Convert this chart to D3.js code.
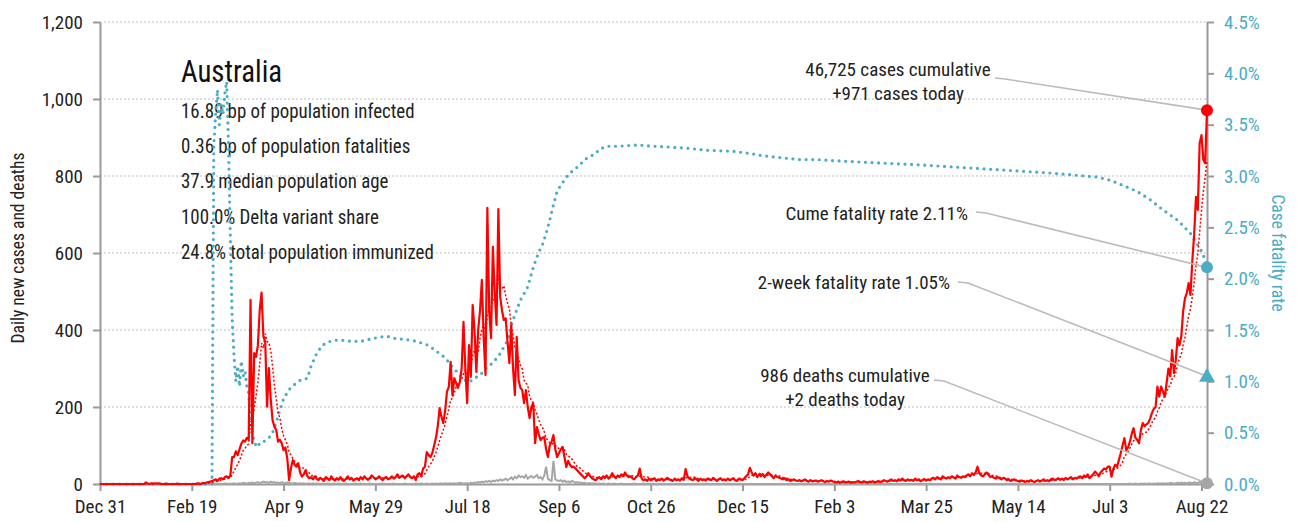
<!DOCTYPE html>
<html>
<head>
<meta charset="utf-8">
<style>
  body { margin: 0; background: #fff; }
  .chart text { font-family: "Liberation Sans Narrow", "Roboto Condensed", "DejaVu Sans Condensed", sans-serif; }
</style>
</head>
<body>
<div class="chart"></div>
<script src="https://d3js.org/d3.v7.min.js"></script>
<script>
// day 0 = Dec 31 2019, one value per day
var cases = [
  0,0,0,0,0,0,0,0,0,0,
  0,0,0,0,0,0,0,0,0,0,
  0,0,0,0,0,4,1,0,2,0,
  2,1,2,0,0,0,1,0,0,0,
  0,0,1,0,0,0,0,0,0,0,
  0,0,0,2,1,0,3,2,4,5,
  6,8,10,12,8,14,15,12,18,20,
  16,22,70,70,85,75,90,105,113,110,
  120,115,478,106,340,330,360,452,497,383,
  370,201,301,220,166,149,140,110,115,106,
  88,95,67,10,40,62,50,45,54,30,
  19,25,36,20,15,18,12,20,14,10,
  16,12,8,18,14,10,20,12,9,15,
  11,18,10,8,14,20,12,16,9,12,
  15,10,18,12,20,14,11,16,22,18,
  12,15,20,14,10,16,18,12,15,20,
  14,18,25,16,20,22,15,20,25,18,
  15,20,10,25,28,20,40,45,83,75,
  70,80,100,120,150,197,175,158,190,240,
  252,317,230,275,262,250,265,300,421,300,
  210,361,278,465,400,291,400,450,530,380,
  283,717,450,379,616,500,413,714,486,450,
  426,430,369,314,413,300,231,382,270,250,
  244,210,244,200,171,200,210,106,148,130,
  114,120,122,90,70,100,110,127,90,70,
  80,90,96,70,44,60,50,44,45,40,
  35,30,25,20,15,20,28,20,15,12,
  10,15,18,12,20,16,22,14,18,28,
  20,15,22,18,25,20,30,22,18,20,
  15,12,18,22,40,15,10,12,8,14,
  10,12,15,8,12,10,14,9,12,16,
  12,10,8,14,10,12,9,15,11,39,
  20,14,12,10,15,12,8,14,10,12,
  9,14,12,10,16,12,8,12,15,10,
  12,9,14,10,12,15,10,8,14,12,
  10,15,20,25,42,30,22,28,18,25,
  20,26,18,24,30,25,20,15,22,18,
  16,14,12,15,10,12,8,10,12,9,
  8,10,7,9,12,8,6,10,7,8,
  9,6,8,10,7,5,8,6,9,7,
  5,4,6,3,5,7,4,5,6,3,
  5,4,6,8,5,4,7,5,3,6,
  5,7,4,6,8,5,7,10,8,6,
  9,12,8,10,7,12,9,14,10,8,
  12,9,11,8,14,10,12,7,10,13,
  9,12,10,14,16,12,18,15,12,20,
  16,14,18,15,20,17,14,22,18,16,
  20,18,22,25,20,28,24,30,45,28,
  22,20,25,30,24,18,20,16,14,18,
  15,12,16,14,10,12,8,10,12,9,
  8,6,9,7,5,8,6,10,7,5,
  8,10,6,9,12,8,10,7,12,14,
  10,12,15,11,14,10,16,12,15,18,
  12,16,14,18,20,15,22,18,25,15,
  20,25,32,28,20,30,35,40,38,45,
  45,19,40,50,45,62,80,100,119,88,
  95,110,130,145,120,115,106,140,158,150,
  155,158,170,184,195,200,253,227,253,240,
  227,262,300,280,348,288,322,379,360,383,
  448,482,496,522,491,580,647,746,712,885,
  906,842,833,971
];

var deaths = [
  0,0,0,0,0,0,0,0,0,0,
  0,0,0,0,0,0,0,0,0,0,
  0,0,0,0,0,0,0,0,0,0,
  0,0,0,0,0,0,0,0,0,0,
  0,0,0,0,0,0,0,0,0,0,
  0,0,0,0,0,0,0,0,0,0,
  1,0,0,0,1,0,0,0,1,1,
  0,1,0,2,0,1,2,1,3,2,
  1,3,2,4,2,3,5,3,4,6,
  4,5,3,6,4,5,3,4,2,5,
  3,2,4,3,2,1,3,2,1,2,
  1,2,0,1,1,0,2,0,1,0,
  0,1,0,0,1,0,0,1,0,0,
  1,0,0,0,1,0,0,0,0,1,
  0,0,1,0,0,0,0,1,0,0,
  0,0,0,1,0,0,0,0,0,0,
  1,0,0,0,0,0,1,0,0,0,
  0,0,1,0,0,1,0,0,1,0,
  0,1,0,1,0,1,1,0,2,1,
  1,2,1,2,1,2,3,2,1,2,
  2,1,3,2,4,3,5,4,6,5,
  7,6,8,5,9,7,10,8,12,9,
  11,14,10,13,17,12,19,15,22,18,
  20,16,23,14,18,21,16,19,23,15,
  18,12,22,45,14,10,8,60,12,9,
  8,10,6,9,5,7,4,8,6,3,
  5,3,4,2,3,1,2,2,1,1,
  1,0,1,0,1,0,0,1,0,0,
  1,0,0,0,1,0,0,0,0,0,
  0,1,0,0,0,0,1,0,0,0,
  0,0,0,0,0,0,0,0,0,0,
  0,0,0,0,0,0,0,0,0,0,
  0,0,0,0,0,0,0,0,0,0,
  0,0,0,0,0,0,0,0,0,0,
  0,0,0,0,0,0,0,0,0,0,
  0,0,0,0,0,0,0,0,0,0,
  0,0,0,0,0,0,0,0,0,0,
  0,0,0,0,0,0,0,0,0,0,
  0,0,0,0,0,0,0,0,0,0,
  0,0,0,0,0,0,0,0,0,0,
  0,0,0,0,0,0,0,0,0,0,
  0,0,0,0,0,0,0,0,0,0,
  0,0,0,0,0,0,0,0,0,0,
  0,0,0,0,0,0,0,0,0,0,
  0,0,0,0,0,0,0,0,0,0,
  0,0,0,0,0,0,0,0,0,0,
  0,0,0,0,0,0,0,0,0,0,
  0,0,0,0,0,0,0,0,0,0,
  0,0,0,0,0,0,0,0,0,0,
  0,0,0,0,0,0,0,0,0,0,
  0,0,0,0,0,0,0,0,0,0,
  0,0,0,0,0,0,0,0,0,0,
  0,0,0,0,0,0,0,0,0,0,
  0,0,0,0,0,0,0,0,0,0,
  0,0,0,0,0,0,0,0,0,0,
  0,0,0,0,0,0,0,0,0,0,
  0,1,0,0,1,0,0,1,0,1,
  0,1,1,0,1,0,2,1,1,2,
  1,2,1,3,2,1,2,3,2,4,
  2,3,1,4,3,2,5,3,2,6,
  3,4,2,2
];

// case fatality rate (%), read at these days
var cfrDays = [0,61,62,63,64,65,66,67,68,69,70,71,72,73,74,75,76,77,78,79,80,81,82,83,84,85,86,87,89,92,94,96,98,100,103,106,109,113,115,118,121,124,127,132,137,142,147,152,156,160,165,170,174,179,185,188,192,196,199,201,204,207,211,214,218,222,225,229,233,236,239,241,243,245,247,249,251,255,258,261,264,267,270,272,276,283,290,294,301,312,320,331,345,354,360,370,381,390,409,445,481,517,543,550,557,565,572,579,587,594,599,601,603];
var cfrValues = [0,0,3.3,3.6,3.84,3.5,3.7,3.6,3.8,3.92,3.3,2.4,1.6,1.25,1.0,1.15,0.95,1.2,1.05,1.1,0.95,0.88,0.6,0.48,0.42,0.37,0.36,0.4,0.41,0.45,0.5,0.6,0.72,0.83,0.92,0.97,1.01,1.03,1.15,1.27,1.35,1.38,1.4,1.4,1.39,1.39,1.41,1.43,1.44,1.42,1.41,1.40,1.38,1.35,1.27,1.23,1.14,1.06,1.01,0.99,1.03,1.06,1.14,1.18,1.27,1.4,1.6,1.79,1.92,2.11,2.26,2.33,2.44,2.57,2.72,2.85,2.91,3.01,3.06,3.1,3.16,3.19,3.22,3.26,3.29,3.29,3.3,3.3,3.29,3.28,3.27,3.25,3.24,3.22,3.2,3.18,3.16,3.16,3.14,3.11,3.07,3.03,2.99,2.96,2.91,2.85,2.77,2.67,2.57,2.44,2.3,2.23,2.11];

var xTickDays = [0,50,100,150,200,250,300,350,400,450,500,550,600];
var xTickLabels = ["Dec 31","Feb 19","Apr 9","May 29","Jul 18","Sep 6","Oct 26","Dec 15","Feb 3","Mar 25","May 14","Jul 3","Aug 22"];
var leftTicks = [0,200,400,600,800,1000,1200];
var rightTicks = [0,0.5,1,1.5,2,2.5,3,3.5,4,4.5];

var country = "Australia";
var stats = [
  "16.89 bp of population infected",
  "0.36 bp of population fatalities",
  "37.9 median population age",
  "100.0% Delta variant share",
  "24.8% total population immunized"
];
var cumCases = 46725, todayCases = 971, cumDeaths = 986, todayDeaths = 2;
var cumeRate = 2.11, twoWeekRate = 1.05;

var TEAL = "#4bacc6", RED = "#ff0000", GREY = "#a6a6a6", AXIS = "#999";

function drawChart() {
  var width = 1297, height = 522;
  var svg = d3.select(".chart").append("svg")
    .attr("width", width)
    .attr("height", height);

  var x = d3.scaleLinear().domain([0, 603]).range([100, 1207]);
  var yL = d3.scaleLinear().domain([0, 1200]).range([484, 22]);
  var yR = d3.scaleLinear().domain([0, 4.5]).range([484, 22]);

  // grid
  svg.append("g").selectAll("line")
    .data(leftTicks.filter(d => d > 0))
    .enter().append("line")
      .attr("x1", x(0)).attr("x2", x(603))
      .attr("y1", d => yL(d)).attr("y2", d => yL(d))
      .attr("stroke", "#bdbdbd")
      .attr("stroke-dasharray", "2,2");

  // axes
  var gx = svg.append("g")
    .attr("transform", "translate(0," + yL(0) + ")")
    .call(d3.axisBottom(x).tickValues(xTickDays)
      .tickFormat((d, i) => xTickLabels[i]).tickSize(7).tickSizeOuter(0).tickPadding(9));
  var gl = svg.append("g")
    .attr("transform", "translate(" + x(0) + ",0)")
    .call(d3.axisLeft(yL).tickValues(leftTicks).tickFormat(d3.format(","))
      .tickSize(7).tickSizeOuter(0).tickPadding(10));
  var gr = svg.append("g")
    .attr("transform", "translate(" + x(603) + ",0)")
    .call(d3.axisRight(yR).tickValues(rightTicks).tickFormat(d => d3.format(".1f")(d) + "%")
      .tickSize(7).tickSizeOuter(0).tickPadding(10));

  [gx, gl, gr].forEach(function(g) {
    g.attr("font-family", null).attr("font-size", null);
    g.select(".domain").attr("stroke", AXIS).attr("stroke-width", 2);
    g.selectAll(".tick line").attr("stroke", AXIS).attr("stroke-width", 2);
    g.selectAll(".tick text").attr("font-size", "19px").attr("fill", "#222");
  });
  gr.selectAll(".tick text").attr("fill", TEAL);

  svg.append("text")
    .attr("transform", "translate(24,248) rotate(-90)")
    .attr("text-anchor", "middle")
    .attr("font-size", "17.5px").attr("fill", "#222")
    .text("Daily new cases and deaths");
  svg.append("text")
    .attr("transform", "translate(1272,253) rotate(90)")
    .attr("text-anchor", "middle")
    .attr("font-size", "17.5px").attr("fill", TEAL)
    .text("Case fatality rate");

  // info block, squeezed a little to look like the condensed face
  var info = svg.append("g")
    .attr("transform", "translate(181,0) scale(0.9,1)");
  info.append("text")
    .attr("x", 0).attr("y", 82)
    .attr("font-size", "32px").attr("fill", "#111")
    .text(country);
  info.selectAll("text.stat")
    .data(stats)
    .enter().append("text")
      .attr("class", "stat")
      .attr("x", 0).attr("y", (d, i) => 118 + i * 35.2)
      .attr("font-size", "21px").attr("fill", "#222")
      .text(d => d);

  var days = d3.range(cases.length);

  // deaths
  svg.append("path")
    .datum(days)
    .attr("fill", "none").attr("stroke", GREY).attr("stroke-width", 2)
    .attr("d", d3.line().x(d => x(d)).y(d => yL(deaths[d])));

  // case fatality rate
  svg.append("path")
    .datum(d3.range(cfrDays.length))
    .attr("fill", "none").attr("stroke", TEAL).attr("stroke-width", 3.2)
    .attr("stroke-linecap", "round").attr("stroke-dasharray", "0,6.6")
    .attr("d", d3.line().x(i => x(cfrDays[i])).y(i => yR(cfrValues[i])));

  // 7 day trailing average
  var avg = days.map(d => d3.mean(cases.slice(Math.max(0, d - 6), d + 1)));
  svg.append("path")
    .datum(days)
    .attr("fill", "none").attr("stroke", RED).attr("stroke-width", 1.5)
    .attr("stroke-dasharray", "2,2")
    .attr("d", d3.line().x(d => x(d)).y(d => yL(avg[d])));

  // daily cases
  svg.append("path")
    .datum(days)
    .attr("fill", "none").attr("stroke", RED).attr("stroke-width", 2.2)
    .attr("stroke-linejoin", "round")
    .attr("d", d3.line().x(d => x(d)).y(d => yL(cases[d])));

  // annotations
  var last = cases.length - 1;
  var notes = [
    { lines: [d3.format(",")(cumCases) + " cases cumulative", "+" + todayCases + " cases today"],
      tx: 898, ty: 76, anchor: "middle", lx: 995, ly: 78, px: x(last), py: yL(todayCases) },
    { lines: ["Cume fatality rate " + cumeRate.toFixed(2) + "%"],
      tx: 968, ty: 220, anchor: "end", lx: 976, ly: 212, px: x(last), py: yR(cumeRate) },
    { lines: ["2-week fatality rate " + twoWeekRate.toFixed(2) + "%"],
      tx: 950, ty: 289, anchor: "end", lx: 958, ly: 282, px: x(last), py: yR(twoWeekRate) },
    { lines: [cumDeaths + " deaths cumulative", "+" + todayDeaths + " deaths today"],
      tx: 845, ty: 382, anchor: "middle", lx: 934, ly: 380, px: x(last), py: yL(todayDeaths) }
  ];
  notes.forEach(function(n) {
    svg.append("polyline")
      .attr("points", [[n.lx, n.ly], [n.lx + 10, n.ly + 1], [n.px, n.py]].join(" "))
      .attr("fill", "none").attr("stroke", "#bbb").attr("stroke-width", 1.6);
    n.lines.forEach(function(t, i) {
      svg.append("text")
        .attr("x", n.tx).attr("y", n.ty + i * 24)
        .attr("text-anchor", n.anchor)
        .attr("font-size", "19px").attr("fill", "#222")
        .text(t);
    });
  });

  // end markers
  svg.append("circle").attr("cx", x(last)).attr("cy", yL(cases[last])).attr("r", 6).attr("fill", RED);
  svg.append("circle").attr("cx", x(last)).attr("cy", yR(cumeRate)).attr("r", 6).attr("fill", TEAL);
  svg.append("path")
    .attr("transform", "translate(" + x(last) + "," + (yR(twoWeekRate) + 1) + ")")
    .attr("d", d3.symbol().type(d3.symbolTriangle).size(110)())
    .attr("fill", TEAL);
  svg.append("circle").attr("cx", x(last)).attr("cy", yL(deaths[last])).attr("r", 6).attr("fill", GREY);
}

drawChart();
</script>
</body>
</html>
